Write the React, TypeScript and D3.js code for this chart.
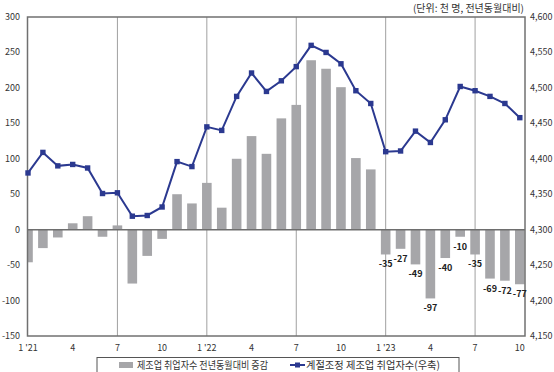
import React, { useEffect, useRef } from 'react';
import * as d3 from 'd3';

// months Jan'21 .. Oct'23
const months = d3.range(34).map(i => `${2021 + Math.floor(i / 12)}-${(i % 12) + 1}`);
const tickLabels = ["1 '21", '4', '7', '10', "1 '22", '4', '7', '10', "1 '23", '4', '7', '10'];

const yoyChange = [
  -46, -26, -11, 9, 19, -10, 6, -76, -37, -13, 50, 37,
  66, 31, 100, 132, 107, 157, 176, 239, 227, 201, 101, 85,
  -35, -27, -49, -97, -40, -10, -35, -69, -72, -77,
];
const employed = [
  4380, 4409, 4390, 4392, 4387, 4351, 4352, 4319, 4320, 4332, 4396, 4389,
  4445, 4440, 4488, 4521, 4495, 4510, 4530, 4560, 4550, 4534, 4496, 4478,
  4410, 4411, 4439, 4423, 4455, 4502, 4496, 4488, 4478, 4458,
];
const leftTicks = [300, 250, 200, 150, 100, 50, 0, -50, -100, -150];
const rightTicks = [4600, 4550, 4500, 4450, 4400, 4350, 4300, 4250, 4200, 4150];
const legendLabels = ['제조업 취업자수 전년동월대비 증감', '계절조정 제조업 취업자수(우축)'];

const W = 554, H = 372;
const L = 27.5, R = 525, T = 17, B = 336;
const font = "'Noto Sans CJK KR', 'Noto Sans', sans-serif";

export default function App() {
  const ref = useRef(null);

  useEffect(() => {
    const svg = d3.select(ref.current);
    svg.selectAll('*').remove();

    const x = d3.scalePoint().domain(months).range([28, 519.8]);
    const y = d3.scaleLinear().domain([-150, 300]).range([B, T]);
    const y2 = d3.scaleLinear().domain([4150, 4600]).range([B, T]);
    const bw = 9.6;

    svg.append('clipPath').attr('id', 'plot')
      .append('rect').attr('x', L).attr('y', T).attr('width', R - L).attr('height', B - T);

    // vertical gridlines every 6 months
    svg.append('g').selectAll('line')
      .data(months.filter((d, i) => i % 6 === 0 && i > 0))
      .join('line')
      .attr('x1', d => x(d)).attr('x2', d => x(d))
      .attr('y1', T).attr('y2', B)
      .attr('stroke', '#a0a0a0').attr('stroke-width', 1);

    // bars
    svg.append('g').attr('clip-path', 'url(#plot)')
      .selectAll('rect')
      .data(yoyChange)
      .join('rect')
      .attr('x', (d, i) => x(months[i]) - bw / 2)
      .attr('width', bw)
      .attr('y', d => y(Math.max(0, d)))
      .attr('height', d => Math.abs(y(d) - y(0)))
      .attr('fill', '#a6a6a9');

    // zero line
    svg.append('line')
      .attr('x1', L).attr('x2', R).attr('y1', y(0)).attr('y2', y(0))
      .attr('stroke', '#6e6e6e').attr('stroke-width', 1.5);

    // frame
    svg.append('rect')
      .attr('x', L).attr('y', T).attr('width', R - L).attr('height', B - T)
      .attr('fill', 'none').attr('stroke', '#707070').attr('stroke-width', 1.5);

    // labels for 2023 bars
    svg.append('g').selectAll('text')
      .data(yoyChange.slice(24))
      .join('text')
      .attr('x', (d, i) => x(months[i + 24]))
      .attr('y', d => y(d) + 13)
      .attr('text-anchor', 'middle')
      .attr('font-size', 9).attr('font-weight', 'bold')
      .attr('fill', '#222').attr('font-family', font)
      .text(d => d);

    // line
    svg.append('path')
      .datum(employed)
      .attr('fill', 'none')
      .attr('stroke', '#2b3990')
      .attr('stroke-width', 2)
      .attr('d', d3.line().x((d, i) => x(months[i])).y(d => y2(d)));

    svg.append('g').selectAll('rect')
      .data(employed)
      .join('rect')
      .attr('x', (d, i) => x(months[i]) - 2.7)
      .attr('y', d => y2(d) - 2.7)
      .attr('width', 5.4).attr('height', 5.4)
      .attr('fill', '#2b3990');

    // left axis labels
    svg.append('g').selectAll('text')
      .data(leftTicks)
      .join('text')
      .attr('x', 20).attr('y', d => y(d) + 3)
      .attr('text-anchor', 'end')
      .attr('font-size', 9).attr('fill', '#333').attr('font-family', font)
      .text(d => d);

    // right axis labels
    svg.append('g').selectAll('text')
      .data(rightTicks)
      .join('text')
      .attr('x', 530).attr('y', d => y2(d) + 3)
      .attr('font-size', 9).attr('fill', '#333').attr('font-family', font)
      .text(d => d3.format(',')(d));

    // x tick labels
    svg.append('g').selectAll('text')
      .data(tickLabels)
      .join('text')
      .attr('x', (d, i) => x(months[i * 3]))
      .attr('y', 351)
      .attr('text-anchor', 'middle')
      .attr('font-size', 9).attr('fill', '#333').attr('font-family', font)
      .text(d => d);

    // unit text
    svg.append('text')
      .attr('x', 524).attr('y', 12)
      .attr('text-anchor', 'end')
      .attr('font-size', 10).attr('fill', '#333').attr('font-family', font)
      .text('(단위: 천 명, 전년동월대비)');

    // legend
    const lg = svg.append('g');
    lg.append('rect')
      .attr('x', 97).attr('y', 357.5).attr('width', 362).attr('height', 20)
      .attr('fill', 'white').attr('stroke', '#555').attr('stroke-width', 1);
    lg.append('rect')
      .attr('x', 119).attr('y', 362).attr('width', 14).attr('height', 6)
      .attr('fill', '#a6a6a9');
    lg.append('text')
      .attr('x', 137).attr('y', 368.5)
      .attr('font-size', 10.5).attr('fill', '#333').attr('font-family', font)
      .attr('textLength', 131).attr('lengthAdjust', 'spacingAndGlyphs')
      .text(legendLabels[0]);
    lg.append('line')
      .attr('x1', 290).attr('x2', 305).attr('y1', 365).attr('y2', 365)
      .attr('stroke', '#2b3990').attr('stroke-width', 2);
    lg.append('rect')
      .attr('x', 295).attr('y', 362.5).attr('width', 5).attr('height', 5)
      .attr('fill', '#2b3990');
    lg.append('text')
      .attr('x', 306).attr('y', 368.5)
      .attr('font-size', 10.5).attr('fill', '#333').attr('font-family', font)
      .attr('textLength', 134).attr('lengthAdjust', 'spacingAndGlyphs')
      .text(legendLabels[1]);
  }, []);

  return (
    <svg ref={ref} width={W} height={H}
      style={{ position: 'absolute', left: 0, top: 0, background: 'white' }} />
  );
}
